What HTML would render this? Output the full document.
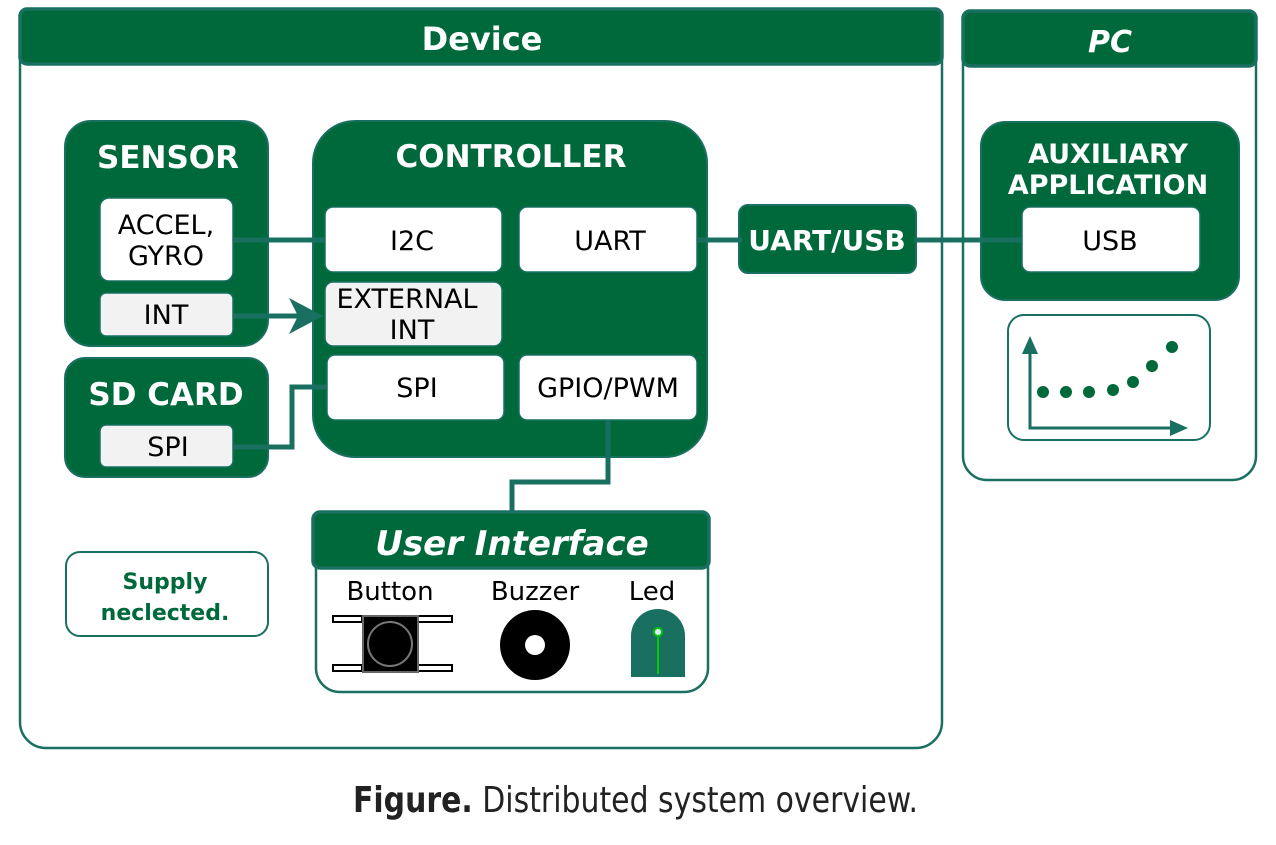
<!DOCTYPE html>
<html><head><meta charset="utf-8"><style>
html,body{margin:0;padding:0;background:#fff;}
svg{display:block;}
text{font-family:"DejaVu Sans",sans-serif;}
</style></head><body>
<svg width="1276" height="845" viewBox="0 0 1276 845" xmlns="http://www.w3.org/2000/svg">
<g stroke="#1a7060" stroke-width="2.5" fill="#fff">
<rect x="20" y="10" width="922" height="738" rx="26"/>
<rect x="963" y="12" width="293" height="468" rx="24"/>
</g>
<g fill="#00693c" stroke="#1a7060" stroke-width="3.5">
<rect x="20" y="9" width="922" height="55" rx="7"/>
<rect x="963" y="11" width="293" height="55" rx="7"/>
</g>
<text x="482" y="50" font-size="32" font-weight="bold" fill="#fff" text-anchor="middle">Device</text>
<text x="1110" y="52" font-size="30" font-weight="bold" font-style="italic" fill="#fff" text-anchor="middle">PC</text>

<g fill="#00693c" stroke="#1a7060" stroke-width="2">
<rect x="65" y="121" width="203" height="225" rx="26"/>
<rect x="65" y="358" width="203" height="119" rx="20"/>
<rect x="313" y="121" width="394" height="336" rx="42"/>
<rect x="739" y="205" width="177" height="68" rx="9"/>
<rect x="981" y="122" width="258" height="178" rx="24"/>
</g>

<!-- connectors -->
<g stroke="#1a7060" stroke-width="5" fill="none">
<line x1="230" y1="240" x2="328" y2="240"/>
<line x1="230" y1="316" x2="298" y2="316"/>
<polyline points="230,447 292,447 292,387 330,387"/>
<polyline points="608,418 608,482 512,482 512,515"/>
<line x1="695" y1="240" x2="742" y2="240"/>
<line x1="914" y1="240" x2="1025" y2="240"/>
</g>
<polygon points="289,298 323,316 289,334 298,316" fill="#1a7060"/>

<text x="168" y="168" font-size="31" font-weight="bold" fill="#fff" text-anchor="middle">SENSOR</text>
<text x="166" y="405" font-size="31" font-weight="bold" fill="#fff" text-anchor="middle">SD CARD</text>
<text x="511" y="167" font-size="31" font-weight="bold" fill="#fff" text-anchor="middle">CONTROLLER</text>
<text x="827" y="250" font-size="28" font-weight="bold" fill="#fff" text-anchor="middle">UART/USB</text>
<text x="1108" y="163" font-size="27" font-weight="bold" fill="#fff" text-anchor="middle">AUXILIARY</text>
<text x="1108" y="194" font-size="27" font-weight="bold" fill="#fff" text-anchor="middle">APPLICATION</text>

<g stroke="#1a7060" stroke-width="1.5">
<rect x="100" y="198" width="133" height="83" rx="9" fill="#fff"/>
<rect x="100" y="293" width="133" height="43" rx="6" fill="#f2f2f2"/>
<rect x="100" y="425" width="133" height="42" rx="6" fill="#f2f2f2"/>
<rect x="325" y="207" width="177" height="65" rx="8" fill="#fff"/>
<rect x="519" y="207" width="178" height="65" rx="8" fill="#fff"/>
<rect x="325" y="282" width="177" height="64" rx="8" fill="#f2f2f2"/>
<rect x="327" y="355" width="177" height="65" rx="8" fill="#fff"/>
<rect x="519" y="355" width="178" height="65" rx="8" fill="#fff"/>
<rect x="1022" y="207" width="178" height="65" rx="8" fill="#fff"/>
</g>
<g font-size="27" fill="#000" text-anchor="middle">
<text x="166" y="234">ACCEL,</text>
<text x="166" y="265">GYRO</text>
<text x="166" y="324">INT</text>
<text x="168" y="456">SPI</text>
<text x="412" y="250">I2C</text>
<text x="610" y="250">UART</text>
<text x="407" y="308">EXTERNAL</text>
<text x="412" y="339">INT</text>
<text x="417" y="397">SPI</text>
<text x="608" y="397">GPIO/PWM</text>
<text x="1110" y="250">USB</text>
</g>

<!-- chart -->
<rect x="1008" y="315" width="202" height="125" rx="16" fill="#fff" stroke="#1a7060" stroke-width="2"/>
<g stroke="#1a7060" stroke-width="3" fill="none">
<polyline points="1030,350 1030,428 1175,428"/>
</g>
<polygon points="1030,336 1022,354 1038,354" fill="#1a7060"/>
<polygon points="1188,428 1170,420 1170,436" fill="#1a7060"/>
<g fill="#00693c">
<circle cx="1043" cy="392" r="6"/><circle cx="1066" cy="392" r="6"/><circle cx="1089" cy="392" r="6"/>
<circle cx="1113" cy="390" r="6"/><circle cx="1133" cy="382" r="6"/><circle cx="1152" cy="366" r="6"/><circle cx="1172" cy="347" r="6"/>
</g>

<!-- user interface -->
<rect x="316" y="514" width="392" height="178" rx="24" fill="#fff" stroke="#1a7060" stroke-width="2.5"/>
<rect x="313" y="512" width="396" height="56" rx="7" fill="#00693c" stroke="#1a7060" stroke-width="3.5"/>
<text x="512" y="555" font-size="34" font-weight="bold" font-style="italic" fill="#fff" text-anchor="middle">User Interface</text>
<g font-size="26" fill="#000" text-anchor="middle">
<text x="390" y="600">Button</text>
<text x="535" y="600">Buzzer</text>
<text x="652" y="600">Led</text>
</g>
<g fill="#fff" stroke="#000" stroke-width="2">
<rect x="333" y="616" width="29" height="6"/><rect x="418" y="616" width="34" height="6"/>
<rect x="333" y="665" width="29" height="6"/><rect x="418" y="665" width="34" height="6"/>
</g>
<rect x="363" y="616" width="55" height="56" fill="#000" stroke="#666" stroke-width="2"/>
<circle cx="390" cy="644" r="22" fill="none" stroke="#777" stroke-width="2"/>
<circle cx="535" cy="645" r="35" fill="#000"/>
<circle cx="535" cy="645" r="10" fill="#fff"/>
<path d="M631,677 V636 A27,27 0 0 1 685,636 V677 Z" fill="#1a7060"/>
<line x1="658" y1="632" x2="658" y2="674" stroke="#00cc00" stroke-width="2"/>
<circle cx="658" cy="632" r="4" fill="#e0e8ff" stroke="#00cc00" stroke-width="2"/>

<!-- supply -->
<rect x="66" y="552" width="202" height="84" rx="14" fill="#fff" stroke="#1a7060" stroke-width="2"/>
<text x="165" y="589" font-size="22" font-weight="bold" fill="#00693c" text-anchor="middle">Supply</text>
<text x="165" y="620" font-size="22" font-weight="bold" fill="#00693c" text-anchor="middle">neclected.</text>

<text x="353" y="812" font-size="36" font-family="Liberation Sans Narrow, Liberation Sans, sans-serif" fill="#222" textLength="565" lengthAdjust="spacingAndGlyphs"><tspan font-weight="bold">Figure.</tspan> Distributed system overview.</text>
</svg>
</body></html>
